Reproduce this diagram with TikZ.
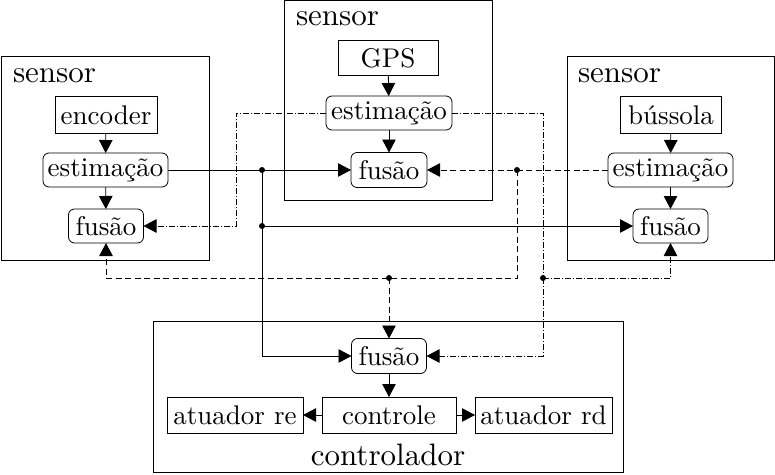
\documentclass[tikz,border=0pt]{standalone}
\usepackage{fontspec}
\setmainfont{lmroman10-regular}[Extension=.otf]
\usetikzlibrary{arrows.meta,calc}
\begin{document}
\begin{tikzpicture}[x=1pt,y=-1pt,
  every node/.style={inner sep=0pt,outer sep=0pt},
  blk/.style={draw,line width=0.8pt,font=\fontsize{27}{32}\selectfont,anchor=center},
  rnd/.style={blk,rounded corners=6pt},
  cont/.style={draw,line width=0.8pt},
  lbl/.style={font=\fontsize{31}{37}\selectfont},
  con/.style={line width=0.8pt,-{Triangle[length=13pt,width=13.5pt]}},
  plain/.style={line width=0.8pt},
  dsh/.style={dash pattern=on 6pt off 3.5pt},
  dshd/.style={dash pattern=on 6pt off 2pt on 1pt off 2pt},
  dot/.style={circle,fill,minimum size=6pt,inner sep=0pt}
]
\useasboundingbox (0,0) rectangle (775,474);
% containers
\draw[cont] (1,56) rectangle (209,260);
\draw[cont] (284,0.5) rectangle (492,200);
\draw[cont] (567,56) rectangle (774.5,260);
\draw[cont] (153,321) rectangle (623,472);
\node[lbl,anchor=base west] (sL) at (13,82) {sensor};
\node[lbl,anchor=base west] (sM) at (296,25) {sensor};
\node[lbl,anchor=base west] (sR) at (578,82) {sensor};
\node[lbl,anchor=base] (cL) at (388,465) {controlador};
% blocks
\node[blk,minimum width=102pt,minimum height=37pt] (enc) at (106,115) {encoder};
\node[rnd,minimum width=125pt,minimum height=34pt] (estL) at (105.5,170) {estimação};
\node[rnd,minimum width=75pt,minimum height=34pt] (fusL) at (106,226) {fusão};
\node[blk,minimum width=100pt,minimum height=35pt] (gps) at (388,58) {GPS};
\node[rnd,minimum width=126pt,minimum height=34pt] (estM) at (389,113) {estimação};
\node[rnd,minimum width=76pt,minimum height=35pt] (fusM) at (389,170) {fusão};
\node[blk,minimum width=101pt,minimum height=37pt] (bus) at (671,115) {bússola};
\node[rnd,minimum width=125pt,minimum height=34pt] (estR) at (670.5,170) {estimação};
\node[rnd,minimum width=75pt,minimum height=34pt] (fusR) at (670.5,226) {fusão};
\node[rnd,minimum width=75pt,minimum height=35pt] (fusC) at (389,356) {fusão};
\node[blk,minimum width=134pt,minimum height=36pt] (ctl) at (389,415) {controle};
\node[blk,minimum width=136pt,minimum height=36pt] (are) at (235,415) {atuador re};
\node[blk,minimum width=137pt,minimum height=36pt] (ard) at (543.5,415) {atuador rd};
% junctions
\node[dot] (j1) at (262,170) {};
\node[dot] (j2) at (262,226) {};
\node[dot] (d1) at (517,170) {};
\node[dot] (d4) at (389,278) {};
\node[dot] (e2) at (543,278) {};
\coordinate (d3) at (517,278);
\coordinate (a1) at (236,113);
% internal arrows
\draw[con] (enc) -- (estL);
\draw[con] (estL) -- (fusL);
\draw[con] (gps) -- (estM);
\draw[con] (estM) -- (fusM);
\draw[con] (bus) -- (estR);
\draw[con] (estR) -- (fusR);
\draw[con] (fusC) -- (ctl);
\draw[con] (ctl.west) -- (are.east);
\draw[con] (ctl.east) -- (ard.west);
% solid links
\draw[con] (estL.east) -- (fusM.west);
\draw[con] (j1.center) |- (fusC.west);
\draw[con] (j2.center) -- (fusR.west);
% dashed links
\draw[con,dsh] (estR.west) -- (fusM.east);
\draw[con,dsh] (d1.center) -- (d3) -| (fusL.south);
\draw[con,dsh] (d4.center) -- (fusC.north);
% dash-dot links
\draw[con,dshd] (estM.west) -- (a1) |- (fusL.east);
\draw[plain,dshd] (estM.east) -| (e2.center);
\draw[con,dshd] (e2.center) |- (fusC.east);
\draw[con,dshd] (e2.center) -| (fusR.south);
\end{tikzpicture}
\end{document}
